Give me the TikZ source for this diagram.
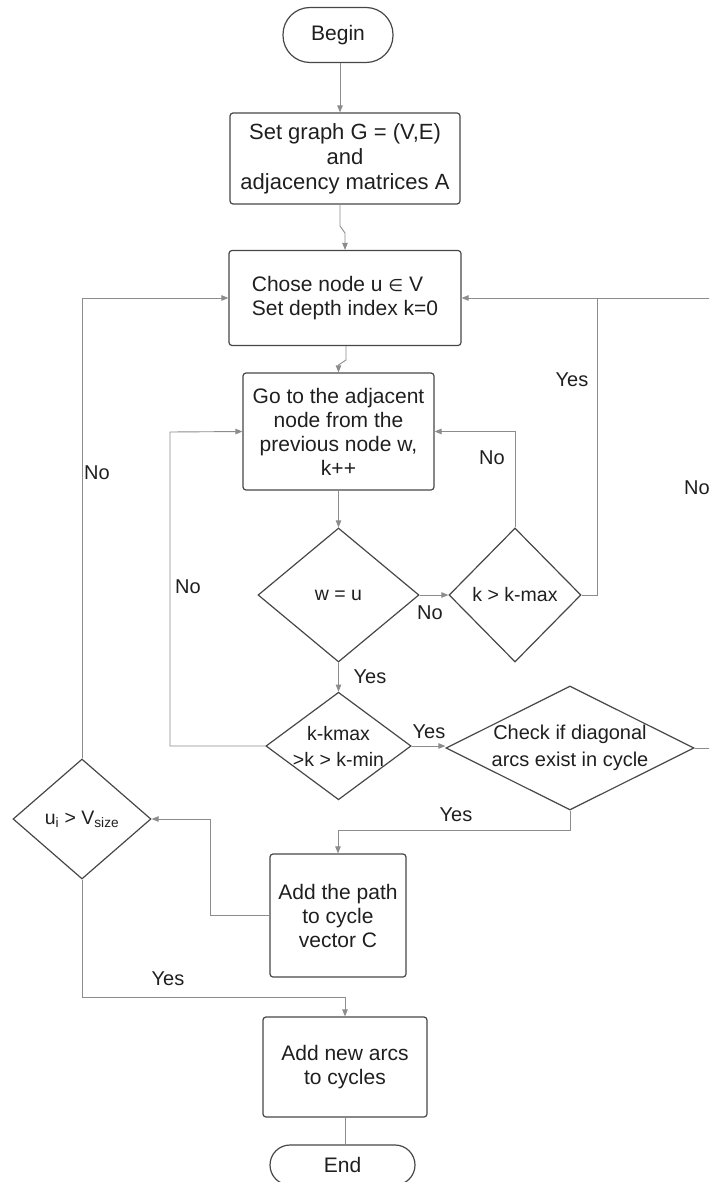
\documentclass[tikz,border=0pt]{standalone}
\usepackage{fontspec}
\setmainfont{Liberation Sans}
\newfontfamily\dvs{DejaVu Sans}
\usetikzlibrary{shapes.geometric,arrows.meta}
\definecolor{boxc}{gray}{0.28}
\definecolor{linec}{gray}{0.55}
\definecolor{txt}{gray}{0.12}
\begin{document}
\begin{tikzpicture}[x=1pt,y=-1pt,
 box/.style={draw=boxc,line width=1.2pt,rounded corners=3pt,align=center,inner sep=0pt,text=txt,font=\fontsize{21}{24}\selectfont},
 term/.style={draw=boxc,line width=1.2pt,inner sep=0pt,text=txt,font=\fontsize{21}{24}\selectfont},
 dia/.style={diamond,draw=boxc,line width=1.2pt,inner sep=0pt,align=center,text=txt,font=\fontsize{19.5}{26}\selectfont},
 conn/.style={draw=linec,line width=0.9pt},
 arr/.style={conn,-{Triangle[length=7pt,width=5.5pt]}},
 lbl/.style={inner sep=0pt,text=txt,font=\fontsize{20}{24}\selectfont}
]
\useasboundingbox (0,0) rectangle (709,1182);
\clip (0,0) rectangle (709,1182);

% nodes
\node[term,minimum width=110pt,minimum height=55pt,rounded corners=27pt] (begin) at (338,35) {Begin};
\node[box,minimum width=230pt,minimum height=91pt,font=\fontsize{22}{25}\selectfont] (set) at (345,158.5) {Set graph G = (V,E)\\and\\adjacency matrices A};
\node[box,minimum width=232pt,minimum height=95pt,align=left] (chose) at (345,298) {Chose node u {\dvs\fontsize{17}{20}\selectfont ∈} V\\Set depth index k=0};
\node[box,minimum width=191pt,minimum height=117pt] (goto) at (338.5,431.5) {Go to the adjacent\\node from the\\previous node w,\\k++};
\node[dia,aspect=1.2,minimum width=161pt,minimum height=134pt] (wu) at (338.5,595) {w = u};
\node[dia,aspect=1,minimum width=132pt,minimum height=134pt] (kmax) at (515,595) {k > k-max};
\node[dia,aspect=1.35,minimum width=143pt,minimum height=106pt] (kk) at (338.5,746) {k-kmax\\>k > k-min};
\node[dia,aspect=2,minimum width=241pt,minimum height=124pt,font=\fontsize{20}{27}\selectfont] (check) at (570,748) {Check if diagonal\\arcs exist in cycle};
\node[dia,aspect=1.15,minimum width=138pt,minimum height=120pt] (ui) at (82,819) {u\textsubscript{i} > V\textsubscript{size}};
\node[box,minimum width=136pt,minimum height=123pt] (path) at (338,915.5) {Add the path\\to cycle\\vector C};
\node[box,minimum width=164pt,minimum height=100pt] (arcs) at (345,1067) {Add new arcs\\to cycles};
\node[term,minimum width=145pt,minimum height=40pt,rounded corners=20pt] (end) at (342.5,1165) {End};

% helper coordinates
\coordinate (j1a) at (340,226);
\coordinate (j1b) at (345,233);
\coordinate (j2a) at (346,360);
\coordinate (j2b) at (338.5,365);
\coordinate (rx) at (597,298);
\coordinate (fr) at (716,748);
\coordinate (fr2) at (716,298);
\coordinate (lx) at (170,432);
\coordinate (cy) at (338,830);
\coordinate (pk) at (210,819);
\coordinate (uy) at (345,997);

% connectors
\draw[arr] (begin.south -| 340,0) -- (set.north -| 340,0);
\draw[arr] (set.south -| j1a) -- (j1a) -- (j1b) -- (chose.north -| j1b);
\draw[arr] (chose.south -| j2a) -- (j2a) -- (j2b) -- (goto.north -| j2b);
\draw[arr] (goto.south) -- (wu.north);
\draw[arr] (wu.east) -- (kmax.west);
\draw[arr] (kmax.north) |- (goto.east);
\draw[arr] (kmax.east) -| (rx) -- (chose.east);
\draw[conn] (check.east) -- (fr) -- (fr2) -- (rx);
\draw[arr] (wu.south) -- (kk.north);
\draw[arr] (kk.west) -| (lx) -- (goto.west);
\draw[arr] (kk.east) -- (kk.east -| check.west);
\draw[arr] (check.south) |- (cy) -- (path.north);
\draw[arr] (path.west) -| (pk) -- (ui.east);
\draw[arr] (ui.south) |- (uy) -- (arcs.north);
\draw[arr] (ui.north) |- (chose.west);
\draw[conn] (arcs.south) -- (end.north -| arcs.south);

% labels
\node[lbl] (l1) at (572,380) {Yes};
\node[lbl] (l2) at (492,458) {No};
\node[lbl] (l3) at (97,473) {No};
\node[lbl] (l4) at (697,488) {No};
\node[lbl] (l5) at (188,587) {No};
\node[lbl] (l6) at (430,613) {No};
\node[lbl] (l7) at (370,677) {Yes};
\node[lbl] (l8) at (429,732) {Yes};
\node[lbl] (l9) at (456,815) {Yes};
\node[lbl] (l10) at (168,979) {Yes};
\end{tikzpicture}
\end{document}
